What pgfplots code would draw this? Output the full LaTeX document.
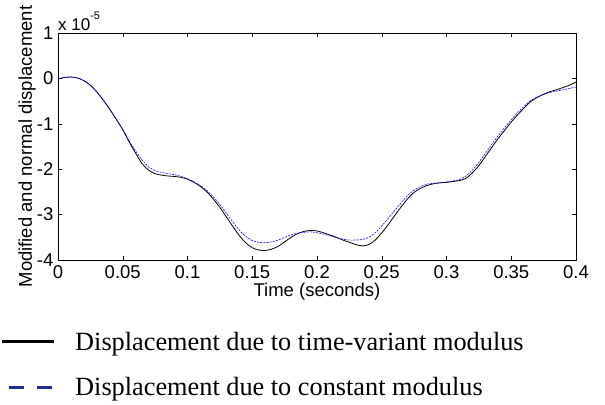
\documentclass[border=0pt]{standalone}
\usepackage{fontspec}
\setmainfont{Liberation Serif}
\newfontfamily\arial{Liberation Sans}
\usepackage{pgfplots}
\pgfplotsset{compat=1.18}
\definecolor{legblue}{RGB}{35,45,150}
\definecolor{plotblue}{RGB}{0,0,255}

\pgfplotstableread{
t v
0 -0.01
0.005 0.02
0.01 0.03
0.015 0.01
0.02 -0.05
0.025 -0.15
0.03 -0.30
0.035 -0.48
0.04 -0.68
0.045 -0.90
0.05 -1.13
0.055 -1.40
0.06 -1.65
0.065 -1.88
0.07 -2.02
0.075 -2.10
0.08 -2.13
0.085 -2.15
0.09 -2.16
0.095 -2.18
0.1 -2.22
0.105 -2.29
0.11 -2.38
0.115 -2.50
0.12 -2.66
0.125 -2.84
0.13 -3.05
0.135 -3.26
0.14 -3.46
0.145 -3.62
0.15 -3.73
0.155 -3.78
0.16 -3.79
0.165 -3.76
0.17 -3.70
0.175 -3.60
0.18 -3.50
0.185 -3.42
0.19 -3.37
0.195 -3.35
0.2 -3.36
0.205 -3.40
0.21 -3.45
0.215 -3.50
0.22 -3.56
0.225 -3.61
0.23 -3.66
0.235 -3.69
0.24 -3.66
0.245 -3.56
0.25 -3.40
0.255 -3.22
0.26 -3.02
0.265 -2.83
0.27 -2.65
0.275 -2.51
0.28 -2.42
0.285 -2.36
0.29 -2.32
0.295 -2.30
0.3 -2.29
0.305 -2.27
0.31 -2.25
0.315 -2.20
0.32 -2.08
0.325 -1.92
0.33 -1.72
0.335 -1.52
0.34 -1.32
0.345 -1.14
0.35 -0.96
0.355 -0.80
0.36 -0.65
0.365 -0.51
0.37 -0.42
0.375 -0.35
0.38 -0.29
0.385 -0.25
0.39 -0.20
0.395 -0.15
0.4 -0.08
}\variant

\pgfplotstableread{
t v
0 -0.01
0.005 0.02
0.01 0.03
0.015 0.01
0.02 -0.05
0.025 -0.15
0.03 -0.30
0.035 -0.48
0.04 -0.68
0.045 -0.90
0.05 -1.12
0.055 -1.38
0.06 -1.60
0.065 -1.80
0.07 -1.95
0.075 -2.03
0.08 -2.07
0.085 -2.10
0.09 -2.12
0.095 -2.16
0.1 -2.21
0.105 -2.28
0.11 -2.36
0.115 -2.47
0.12 -2.61
0.125 -2.78
0.13 -2.97
0.135 -3.16
0.14 -3.34
0.145 -3.48
0.15 -3.57
0.155 -3.61
0.16 -3.62
0.165 -3.60
0.17 -3.56
0.175 -3.50
0.18 -3.45
0.185 -3.41
0.19 -3.39
0.195 -3.38
0.2 -3.40
0.205 -3.43
0.21 -3.47
0.215 -3.51
0.22 -3.54
0.225 -3.56
0.23 -3.56
0.235 -3.55
0.24 -3.50
0.245 -3.40
0.25 -3.25
0.255 -3.08
0.26 -2.91
0.265 -2.74
0.27 -2.58
0.275 -2.46
0.28 -2.38
0.285 -2.33
0.29 -2.31
0.295 -2.30
0.3 -2.28
0.305 -2.26
0.31 -2.23
0.315 -2.15
0.32 -2.02
0.325 -1.85
0.33 -1.65
0.335 -1.45
0.34 -1.26
0.345 -1.08
0.35 -0.91
0.355 -0.75
0.36 -0.61
0.365 -0.49
0.37 -0.41
0.375 -0.35
0.38 -0.31
0.385 -0.28
0.39 -0.25
0.395 -0.22
0.4 -0.19
}\constant

\begin{document}
\begin{tikzpicture}
\path[use as bounding box] (0,0) rectangle (605bp,405bp);
\begin{axis}[
  at={(58bp,145bp)}, anchor=south west,
  scale only axis, width=518bp, height=227bp,
  xmin=0, xmax=0.4, ymin=-4, ymax=1,
  xtick={0,0.05,0.1,0.15,0.2,0.25,0.3,0.35,0.4},
  xticklabels={0,0.05,0.1,0.15,0.2,0.25,0.3,0.35,0.4},
  ytick={-4,-3,-2,-1,0,1},
  yticklabels={-4,-3,-2,-1,0,1},
  tick align=inside, major tick length=4bp,
  xtick pos=both, ytick pos=both,
  xticklabel pos=lower, yticklabel pos=left,
  tick style={black, line width=0.5pt},
  axis line style={line width=0.6pt},
  ticklabel style={font=\arial\fontsize{18.5bp}{20bp}\selectfont},
  xticklabel style={inner sep=0pt, anchor=north, yshift=-5bp},
  yticklabel style={inner sep=0pt, anchor=east, xshift=-4.5bp},
  xlabel={Time (seconds)},
  ylabel={Modified and normal displacement},
  label style={font=\arial\fontsize{18.5bp}{20bp}\selectfont, inner sep=0pt},
  xlabel style={at={(axis description cs:0.5,-0.163)}, anchor=base},
  ylabel style={at={(axis description cs:-0.0502,0.5)}, anchor=base},
  clip mode=individual,
  legend image code/.code={\draw[#1] (0bp,0bp) -- (52bp,0bp);},
  legend style={at={(axis description cs:-0.11197,-0.3172)}, anchor=north west,
    draw=none, fill=none, inner sep=0pt, outer sep=0pt,
    font=\fontsize{26.3bp}{30bp}\selectfont,
    column sep=20bp, row sep=25.8bp,
    nodes={inner sep=0pt}},
  legend cell align=left,
]
\addplot[black, line width=0.8pt, smooth, forget plot] table[x=t,y=v] {\variant};
\addplot[plotblue, line width=0.6pt, dash pattern=on 2bp off 1.2bp, smooth, forget plot] table[x=t,y=v] {\constant};
\addlegendimage{black, line width=3.2bp}
\addlegendentry{Displacement due to time-variant modulus}
\addlegendimage{legblue, line width=3.2bp, dash pattern=on 15bp off 13bp, dash phase=21bp}
\addlegendentry{Displacement due to constant modulus}
\node[anchor=base west, inner sep=0pt, font=\arial\fontsize{17bp}{18bp}\selectfont] at (rel axis cs:0,1) [yshift=3bp] {x 10\raisebox{11bp}{\fontsize{11bp}{11bp}\selectfont -5}};
\end{axis}
\end{tikzpicture}
\end{document}
